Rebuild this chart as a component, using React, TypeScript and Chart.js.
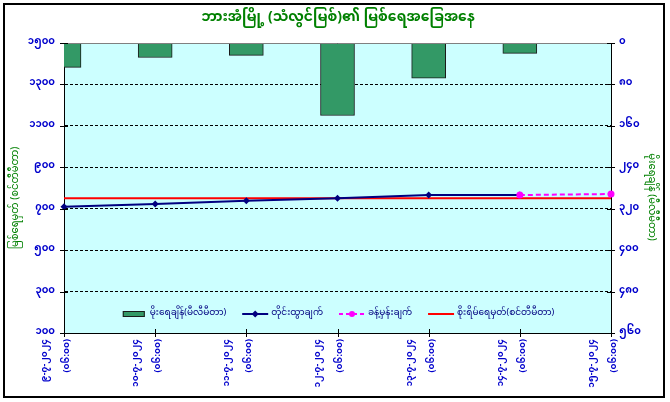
import React, { useEffect, useRef } from 'react';
import { Chart, registerables } from 'chart.js';

Chart.register(...registerables);

// ---- data ----
const dateLabels = ['၉-၇-၂၀၂၄', '၁၀-၇-၂၀၂၄', '၁၁-၇-၂၀၂၄', '၁၂-၇-၂၀၂၄', '၁၃-၇-၂၀၂၄', '၁၄-၇-၂၀၂၄', '၁၅-၇-၂၀၂၄'];
const timeLabels = ['(၀၆:၀၀)', '(၀၆:၀၀)', '(၀၆:၀၀)', '(၀၆:၀၀)', '(၀၆:၀၀)', '(၀၆:၀၀)', '(၀၆:၀၀)'];
const rainfall = [47, 28, 24, 140, 68, 20, null];
const measured = [710, 723, 739, 750, 766, 766, null];
const forecast = [null, null, null, null, null, 766, 771];
const dangerLevel = [750, 750, 750, 750, 750, 750, 750];
const leftTicks = [100, 300, 500, 700, 900, 1100, 1300, 1500];
const leftTickLabels = ['၁၀၀', '၃၀၀', '၅၀၀', '၇၀၀', '၉၀၀', '၁၁၀၀', '၁၃၀၀', '၁၅၀၀'];
const rightTicks = [0, 80, 160, 240, 320, 400, 480, 560];
const rightTickLabels = ['၀', '၈၀', '၁၆၀', '၂၄၀', '၃၂၀', '၄၀၀', '၄၈၀', '၅၆၀'];

const titleText = 'ဘားအံမြို့ (သံလွင်မြစ်)၏ မြစ်ရေအခြေအနေ';
const leftTitle = 'မြစ်ရေမှတ် (စင်တီမီတာ)';
const rightTitle = 'မိုးရေချိန် (မီလီမီတာ)';
const legendRain = 'မိုးရေချိန်(မီလီမီတာ)';
const legendMeasured = 'တိုင်းထွာချက်';
const legendForecast = 'ခန့်မှန်းချက်';
const legendDanger = 'စိုးရိမ်ရေမှတ်(စင်တီမီတာ)';

const FONT = "'Noto Sans Myanmar', 'Padauk', 'Myanmar Text', 'DejaVu Sans', sans-serif";
const W = 670;
const H = 402;

const decorPlugin = {
  id: 'decor',
  beforeDraw(chart: any) {
    const { ctx, chartArea: a } = chart;
    ctx.save();
    ctx.fillStyle = '#ffffff';
    ctx.fillRect(0, 0, W, H);
    ctx.fillStyle = '#CCFFFF';
    ctx.fillRect(a.left, a.top, a.right - a.left, a.bottom - a.top);
    ctx.restore();
  },
  afterDraw(chart: any) {
    const { ctx, chartArea: a } = chart;
    ctx.save();
    // plot top border
    ctx.strokeStyle = '#808080';
    ctx.lineWidth = 1;
    ctx.beginPath();
    ctx.moveTo(a.left, a.top + 0.5);
    ctx.lineTo(a.right, a.top + 0.5);
    ctx.stroke();

    // cross tick marks
    ctx.strokeStyle = '#000000';
    ctx.lineWidth = 1;
    const ys = chart.scales.y;
    ys.ticks.forEach((_t: any, i: number) => {
      const p = Math.round(ys.getPixelForTick(i)) + 0.5;
      ctx.beginPath();
      ctx.moveTo(a.left - 4, p);
      ctx.lineTo(a.left + 4, p);
      ctx.stroke();
    });
    const y1 = chart.scales.y1;
    y1.ticks.forEach((_t: any, i: number) => {
      const p = Math.round(y1.getPixelForTick(i)) + 0.5;
      ctx.beginPath();
      ctx.moveTo(a.right - 4, p);
      ctx.lineTo(a.right + 4, p);
      ctx.stroke();
    });
    const xs = chart.scales.x;
    xs.ticks.forEach((_t: any, i: number) => {
      const p = Math.round(xs.getPixelForTick(i)) + 0.5;
      ctx.beginPath();
      ctx.moveTo(p, a.bottom - 4);
      ctx.lineTo(p, a.bottom + 4);
      ctx.stroke();
    });

    // title
    ctx.fillStyle = '#008000';
    ctx.font = `bold 14px ${FONT}`;
    ctx.textAlign = 'center';
    ctx.textBaseline = 'middle';
    ctx.fillText(titleText, 338, 20);

    // axis titles
    ctx.font = `10px ${FONT}`;
    ctx.save();
    ctx.translate(17, 198);
    ctx.rotate(-Math.PI / 2);
    ctx.fillText(leftTitle, 0, 0);
    ctx.restore();
    ctx.save();
    ctx.translate(650, 197);
    ctx.rotate(Math.PI / 2);
    ctx.fillText(rightTitle, 0, 0);
    ctx.restore();

    // legend
    ctx.font = `9px ${FONT}`;
    ctx.textAlign = 'left';
    ctx.textBaseline = 'middle';
    const ly = 314;
    const items = [legendRain, legendMeasured, legendForecast, legendDanger];
    const markW = 26;
    const gapMT = 3;
    const gapItem = 16;
    const widths = items.map((t) => ctx.measureText(t).width);
    const total = widths.reduce((s, w) => s + w + markW + gapMT, 0) + gapItem * (items.length - 1);
    let x = (a.left + a.right) / 2 - total / 2;
    items.forEach((t, i) => {
      if (i === 0) {
        ctx.fillStyle = '#339966';
        ctx.fillRect(x + 2, ly - 3, markW - 4, 6);
        ctx.strokeStyle = '#1a1a1a';
        ctx.lineWidth = 1;
        ctx.strokeRect(x + 2.5, ly - 2.5, markW - 5, 5);
      } else if (i === 1) {
        ctx.strokeStyle = '#000080';
        ctx.lineWidth = 2;
        ctx.beginPath();
        ctx.moveTo(x, ly);
        ctx.lineTo(x + markW, ly);
        ctx.stroke();
        ctx.fillStyle = '#000080';
        ctx.beginPath();
        const cx = x + markW / 2;
        ctx.moveTo(cx, ly - 3.5);
        ctx.lineTo(cx + 3.5, ly);
        ctx.lineTo(cx, ly + 3.5);
        ctx.lineTo(cx - 3.5, ly);
        ctx.closePath();
        ctx.fill();
      } else if (i === 2) {
        ctx.strokeStyle = '#FF00FF';
        ctx.lineWidth = 2;
        ctx.setLineDash([4, 3]);
        ctx.beginPath();
        ctx.moveTo(x, ly);
        ctx.lineTo(x + markW, ly);
        ctx.stroke();
        ctx.setLineDash([]);
        ctx.fillStyle = '#FF00FF';
        ctx.beginPath();
        ctx.arc(x + markW / 2, ly, 3, 0, Math.PI * 2);
        ctx.fill();
      } else {
        ctx.strokeStyle = '#FF0000';
        ctx.lineWidth = 2;
        ctx.beginPath();
        ctx.moveTo(x, ly);
        ctx.lineTo(x + markW, ly);
        ctx.stroke();
      }
      x += markW + gapMT;
      ctx.fillStyle = '#000080';
      ctx.fillText(t, x, ly);
      x += widths[i] + gapItem;
    });

    // outer border
    ctx.strokeStyle = '#000000';
    ctx.lineWidth = 2;
    ctx.strokeRect(4, 4, 660, 393);
    ctx.restore();
  },
};

export default function App() {
  const ref = useRef<HTMLCanvasElement | null>(null);
  useEffect(() => {
    if (!ref.current) return;
    const labels = dateLabels.map((d, i) => [d, timeLabels[i]]);
    const chart = new Chart(ref.current, {
      type: 'bar',
      data: {
        labels,
        datasets: [
          {
            type: 'line',
            label: legendForecast,
            data: forecast,
            borderColor: '#FF00FF',
            backgroundColor: '#FF00FF',
            borderWidth: 2,
            borderDash: [5, 3],
            pointStyle: 'circle',
            pointRadius: 3.5,
            pointBorderWidth: 0,
            yAxisID: 'y',
            order: 1,
          } as any,
          {
            type: 'line',
            label: legendMeasured,
            data: measured,
            borderColor: '#000080',
            backgroundColor: '#000080',
            borderWidth: 2,
            pointStyle: 'rectRot',
            pointRadius: 3.5,
            pointBorderWidth: 0,
            yAxisID: 'y',
            order: 2,
          } as any,
          {
            type: 'line',
            label: legendDanger,
            data: dangerLevel,
            borderColor: '#FF0000',
            borderWidth: 2,
            pointRadius: 0,
            yAxisID: 'y',
            order: 3,
          } as any,
          {
            type: 'bar',
            label: legendRain,
            data: rainfall,
            backgroundColor: '#339966',
            borderColor: '#1a1a1a',
            borderWidth: 1,
            barThickness: 34,
            yAxisID: 'y1',
            order: 4,
          } as any,
        ],
      },
      options: {
        responsive: false,
        animation: false,
        devicePixelRatio: 1,
        layout: { padding: { top: 43, left: 0, right: 0, bottom: 0 } },
        plugins: {
          legend: { display: false },
          title: { display: false },
          tooltip: { enabled: false },
        },
        scales: {
          x: {
            type: 'category',
            offset: false,
            grid: { display: false, drawTicks: false },
            border: { display: true, color: '#000000', width: 1 },
            ticks: {
              autoSkip: false,
              minRotation: 90,
              maxRotation: 90,
              padding: 6,
              labelOffset: -18,
              color: '#0000CC',
              font: { family: FONT, size: 9, weight: 'bold', lineHeight: '22px' },
            },
            afterFit: (s: any) => {
              s.height = 69;
            },
          },
          y: {
            position: 'left',
            min: 100,
            max: 1500,
            afterBuildTicks: (s: any) => {
              s.ticks = leftTicks.map((v) => ({ value: v }));
            },
            grid: { color: '#000000', lineWidth: 1, drawTicks: false },
            border: { display: true, color: '#000000', width: 1, dash: [3, 2] },
            ticks: {
              padding: 9,
              color: '#0000CC',
              font: { family: FONT, size: 10, weight: 'bold' },
              callback: (v: any) => leftTickLabels[leftTicks.indexOf(Number(v))],
            },
            afterFit: (s: any) => {
              s.width = 64;
            },
          },
          y1: {
            position: 'right',
            reverse: true,
            min: 0,
            max: 560,
            afterBuildTicks: (s: any) => {
              s.ticks = rightTicks.map((v) => ({ value: v }));
            },
            grid: { drawOnChartArea: false, drawTicks: false },
            border: { display: true, color: '#000000', width: 1 },
            ticks: {
              padding: 8,
              color: '#0000CC',
              font: { family: FONT, size: 10, weight: 'bold' },
              callback: (v: any) => rightTickLabels[rightTicks.indexOf(Number(v))],
            },
            afterFit: (s: any) => {
              s.width = 59;
            },
          },
        },
      } as any,
      plugins: [decorPlugin],
    });
    return () => chart.destroy();
  }, []);
  return (
    <div style={{ position: 'absolute', left: 0, top: 0, width: W, height: H }}>
      <canvas ref={ref} width={W} height={H} style={{ width: W, height: H, display: 'block' }} />
    </div>
  );
}
